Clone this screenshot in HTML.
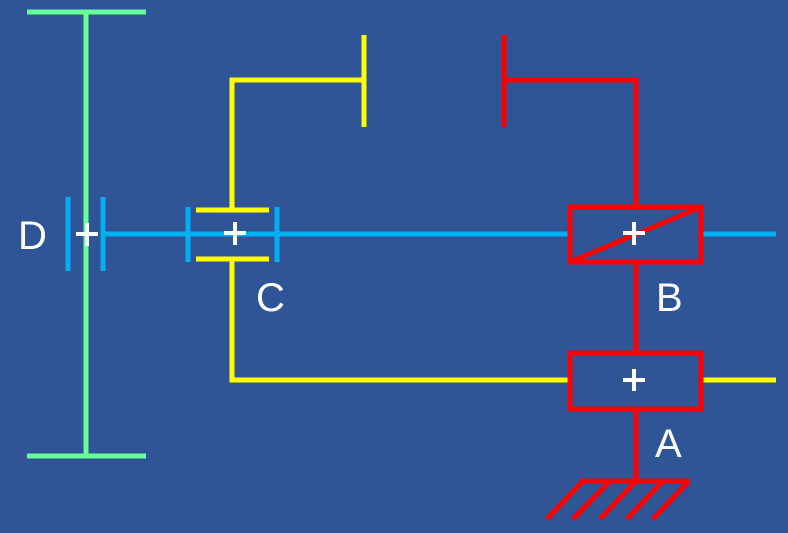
<!DOCTYPE html>
<html><head><style>
html,body{margin:0;padding:0;background:#2F5597;}
svg{display:block;}
text{font-family:"Liberation Sans",sans-serif;fill:#fff;}
</style></head><body>
<svg width="788" height="533" viewBox="0 0 788 533" xmlns="http://www.w3.org/2000/svg">
<rect width="788" height="533" fill="#2F5597"/>
<!-- green -->
<g stroke="#66FF99" stroke-width="5" fill="none">
<line x1="86" y1="12" x2="86" y2="456"/>
<line x1="27" y1="12" x2="146" y2="12"/>
<line x1="27" y1="456" x2="146" y2="456"/>
</g>
<!-- blue -->
<g stroke="#00B0F0" stroke-width="5" fill="none">
<line x1="103" y1="234" x2="776" y2="234"/>
<line x1="68" y1="197" x2="68" y2="271"/>
<line x1="103" y1="197" x2="103" y2="271"/>
<line x1="188" y1="207" x2="188" y2="262"/>
<line x1="277" y1="207" x2="277" y2="262"/>
</g>
<!-- yellow -->
<g stroke="#FFFF00" stroke-width="5" fill="none">
<polyline points="232,210 232,80 364,80"/>
<line x1="364" y1="35" x2="364" y2="127"/>
<line x1="196" y1="210" x2="269" y2="210"/>
<line x1="196" y1="259" x2="269" y2="259"/>
<polyline points="232,259 232,380 776,380"/>
</g>
<!-- red -->
<g stroke="#FF0000" stroke-width="5" fill="none">
<line x1="504" y1="35" x2="504" y2="127"/>
<polyline points="504,80 636,80 636,207"/>
<rect x="570" y="207" width="131" height="55" fill="#2F5597"/>
<line x1="570" y1="262" x2="701" y2="207"/>
<line x1="636" y1="262" x2="636" y2="353"/>
<rect x="570" y="353" width="131" height="56" fill="#2F5597"/>
<line x1="636" y1="409" x2="636" y2="481"/>
<line x1="580" y1="481" x2="690" y2="481"/>
<line x1="583" y1="481" x2="547" y2="519"/>
<line x1="610" y1="481" x2="573" y2="519"/>
<line x1="636" y1="481" x2="600" y2="519"/>
<line x1="663" y1="481" x2="627" y2="519"/>
<line x1="689" y1="481" x2="653" y2="519"/>
</g>
<!-- plus signs -->
<g stroke="#fff" stroke-width="4">
<line x1="76" y1="234" x2="98" y2="234"/><line x1="87" y1="223" x2="87" y2="246"/>
<line x1="224" y1="233" x2="246" y2="233"/><line x1="235" y1="222" x2="235" y2="245"/>
<line x1="623" y1="233" x2="645" y2="233"/><line x1="634" y1="222" x2="634" y2="245"/>
<line x1="623" y1="380" x2="645" y2="380"/><line x1="634" y1="369" x2="634" y2="391"/>
</g>
<text x="18" y="249" font-size="40">D</text>
<text x="256" y="311" font-size="40">C</text>
<text x="656" y="311" font-size="40">B</text>
<text x="655" y="457" font-size="40">A</text>
</svg>
</body></html>
